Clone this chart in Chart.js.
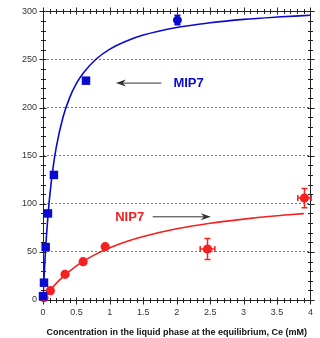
<!DOCTYPE html>
<html>
<head>
<meta charset="utf-8">
<script src="https://cdn.jsdelivr.net/npm/chart.js@4.4.1/dist/chart.umd.min.js"></script>
<style>
html, body { margin: 0; padding: 0; background: #fff; }
#wrap { width: 320px; height: 338px; }
</style>
</head>
<body>
<div id="wrap"><canvas id="chart"></canvas></div>
<script>
// measured points
var mipX = [0, 0.015, 0.04, 0.074, 0.163, 0.643, 2.01];
var mipY = [4, 18, 55, 90, 130, 228, 291];
var mipErrY = [0, 0, 0, 0, 0, 0, 5];

var nipX = [0.015, 0.11, 0.33, 0.6, 0.93, 2.46, 3.91];
var nipY = [2.4, 9.7, 26.7, 39.8, 55.4, 53, 106];
var nipErrX = [0, 0, 0, 0, 0, 0.11, 0.1];
var nipErrY = [0, 0, 0, 0, 0, 11, 10];

// fitted curves
var mipFitX = [0, 0.01, 0.03, 0.05, 0.075, 0.1, 0.15, 0.2, 0.3, 0.4, 0.5, 0.6, 0.8, 1, 1.25, 1.5, 2, 2.5, 3, 3.5, 4];
var mipFitY = [0, 15.6, 42.5, 64.9, 88.2, 107.4, 137.3, 159.5, 190.3, 210.6, 225.1, 235.8, 250.8, 260.8, 269.3, 275.4, 283.3, 288.2, 291.7, 294.1, 296];

var nipFitX = [0, 0.1, 0.25, 0.5, 0.75, 1, 1.25, 1.5, 2, 2.5, 3, 3.5, 3.9];
var nipFitY = [0, 9.4, 20.9, 35.4, 46.1, 54.3, 60.8, 66, 74, 79.8, 84.1, 87.6, 89.8];

var xTicks = [0, 0.5, 1, 1.5, 2, 2.5, 3, 3.5, 4];
var yTicks = [0, 50, 100, 150, 200, 250, 300];

var blue = '#0a0ad0';
var red = '#f52020';

function pts(xs, ys) {
    return xs.map(function(x, i) { return {x: x, y: ys[i]}; });
}

var frameTicks = {
    id: 'frameTicks',
    beforeDatasetsDraw: function(chart) {
        var ctx = chart.ctx, a = chart.chartArea;
        var xs = chart.scales.x, ys = chart.scales.y;
        var l = Math.round(a.left) + 0.5, r = Math.round(a.right) + 0.5;
        var t = Math.round(a.top) + 0.5, b = Math.round(a.bottom) + 0.5;
        ctx.save();
        ctx.strokeStyle = '#222';
        ctx.lineWidth = 1;
        ctx.beginPath();
        ctx.rect(l, t, r - l, b - t);
        for (var i = 0; i <= 40; i++) {
            var px = Math.round(xs.getPixelForValue(i / 10)) + 0.5;
            var big = i % 5 == 0;
            var o = big ? 4 : 2.5, n = big ? 3 : 2.5;
            ctx.moveTo(px, b - n); ctx.lineTo(px, b + o);
            ctx.moveTo(px, t - o); ctx.lineTo(px, t + n);
        }
        for (var j = 0; j <= 30; j++) {
            var py = Math.round(ys.getPixelForValue(j * 10)) + 0.5;
            var bigY = j % 5 == 0;
            var oy = bigY ? 4 : 2.5, ny = bigY ? 3 : 2.5;
            ctx.moveTo(l - oy, py); ctx.lineTo(l + ny, py);
            ctx.moveTo(r - ny, py); ctx.lineTo(r + oy, py);
        }
        ctx.stroke();
        ctx.restore();
    }
};

var errorBars = {
    id: 'errorBars',
    afterDatasetsDraw: function(chart) {
        var ctx = chart.ctx, xs = chart.scales.x, ys = chart.scales.y;
        function draw(xArr, yArr, ex, ey, color) {
            ctx.strokeStyle = color;
            ctx.lineWidth = 1.5;
            xArr.forEach(function(x, i) {
                var cx = xs.getPixelForValue(x), cy = ys.getPixelForValue(yArr[i]);
                ctx.beginPath();
                if (ey[i]) {
                    var y1 = ys.getPixelForValue(yArr[i] + ey[i]), y2 = ys.getPixelForValue(yArr[i] - ey[i]);
                    ctx.moveTo(cx, y1); ctx.lineTo(cx, y2);
                    ctx.moveTo(cx - 3, y1); ctx.lineTo(cx + 3, y1);
                    ctx.moveTo(cx - 3, y2); ctx.lineTo(cx + 3, y2);
                }
                if (ex && ex[i]) {
                    var x1 = xs.getPixelForValue(x - ex[i]), x2 = xs.getPixelForValue(x + ex[i]);
                    ctx.moveTo(x1, cy); ctx.lineTo(x2, cy);
                    ctx.moveTo(x1, cy - 3); ctx.lineTo(x1, cy + 3);
                    ctx.moveTo(x2, cy - 3); ctx.lineTo(x2, cy + 3);
                }
                ctx.stroke();
            });
        }
        ctx.save();
        draw(mipX, mipY, null, mipErrY, blue);
        draw(nipX, nipY, nipErrX, nipErrY, red);
        ctx.restore();
    }
};

function arrow(ctx, x1, y, x2) {
    var dir = x2 > x1 ? 1 : -1;
    ctx.beginPath();
    ctx.moveTo(x1, y); ctx.lineTo(x2 - dir * 6, y);
    ctx.stroke();
    ctx.beginPath();
    ctx.moveTo(x2, y);
    ctx.lineTo(x2 - dir * 10, y - 3.5);
    ctx.lineTo(x2 - dir * 7, y);
    ctx.lineTo(x2 - dir * 10, y + 3.5);
    ctx.closePath();
    ctx.fill();
}

var labels = {
    id: 'labels',
    afterDraw: function(chart) {
        var ctx = chart.ctx, xs = chart.scales.x, ys = chart.scales.y;
        ctx.save();
        ctx.strokeStyle = '#333';
        ctx.fillStyle = '#333';
        ctx.lineWidth = 1;
        arrow(ctx, xs.getPixelForValue(1.77), ys.getPixelForValue(226) + 0.5, xs.getPixelForValue(1.09));
        arrow(ctx, xs.getPixelForValue(1.64), ys.getPixelForValue(87) + 0.5, xs.getPixelForValue(2.51));
        ctx.font = 'bold 13px "Liberation Sans", Arial, sans-serif';
        ctx.textBaseline = 'middle';
        ctx.textAlign = 'left';
        ctx.fillStyle = blue;
        ctx.fillText('MIP7', xs.getPixelForValue(1.95), ys.getPixelForValue(225));
        ctx.fillStyle = red;
        ctx.fillText('NIP7', xs.getPixelForValue(1.08), ys.getPixelForValue(86));
        ctx.restore();
    }
};

var ctx = document.getElementById('chart').getContext('2d');
new Chart(ctx, {
    type: 'scatter',
    data: {
        datasets: [{
            data: pts(mipX, mipY),
            backgroundColor: blue,
            borderColor: blue,
            pointStyle: mipX.map(function(x, i) { return i == mipX.length - 1 ? 'circle' : 'rect'; }),
            pointRadius: mipX.map(function(x, i) { return i == mipX.length - 1 ? 4.5 : 6; }),
            borderWidth: 0,
            clip: false
        }, {
            data: pts(nipX, nipY),
            backgroundColor: red,
            borderColor: red,
            pointStyle: 'circle',
            pointRadius: 4.6,
            borderWidth: 0,
            clip: false
        }, {
            data: pts(mipFitX, mipFitY),
            showLine: true,
            borderColor: blue,
            borderWidth: 1.6,
            pointRadius: 0,
            cubicInterpolationMode: 'monotone'
        }, {
            data: pts(nipFitX, nipFitY),
            showLine: true,
            borderColor: red,
            borderWidth: 1.6,
            pointRadius: 0,
            cubicInterpolationMode: 'monotone'
        }]
    },
    options: {
        responsive: true,
        maintainAspectRatio: false,
        animation: false,
        layout: { padding: { top: 11, right: 7, left: 0, bottom: 0 } },
        plugins: {
            legend: { display: false },
            tooltip: { enabled: false }
        },
        scales: {
            x: {
                type: 'linear',
                min: 0,
                max: 4,
                afterBuildTicks: function(scale) {
                    scale.ticks = xTicks.map(function(v) { return {value: v}; });
                },
                afterFit: function(scale) { scale.height = 38; },
                grid: { display: false, drawTicks: false },
                border: { display: false },
                ticks: {
                    padding: 7,
                    color: '#333',
                    callback: function(v) { return String(v); },
                    font: { family: '"Liberation Sans", Arial, sans-serif', size: 9 }
                },
                title: {
                    display: true,
                    text: 'Concentration in the liquid phase at the equilibrium, Ce (mM)',
                    color: '#111',
                    padding: { top: 6, bottom: 0 },
                    font: { family: '"Liberation Sans", Arial, sans-serif', size: 9, weight: 'bold' }
                }
            },
            y: {
                min: 0,
                max: 300,
                afterBuildTicks: function(scale) {
                    scale.ticks = yTicks.map(function(v) { return {value: v}; });
                },
                afterFit: function(scale) { scale.width = 43; },
                grid: {
                    drawTicks: false,
                    color: function(c) {
                        var v = c.tick ? c.tick.value : 0;
                        return (v == 0 || v == 300) ? 'rgba(0,0,0,0)' : '#777';
                    },
                    lineWidth: 1
                },
                border: { display: false, dash: [2, 2] },
                ticks: {
                    padding: 6,
                    color: '#333',
                    callback: function(v) { return String(v); },
                    font: { family: '"Liberation Sans", Arial, sans-serif', size: 9 }
                }
            }
        }
    },
    plugins: [frameTicks, errorBars, labels]
});
</script>
</body>
</html>
